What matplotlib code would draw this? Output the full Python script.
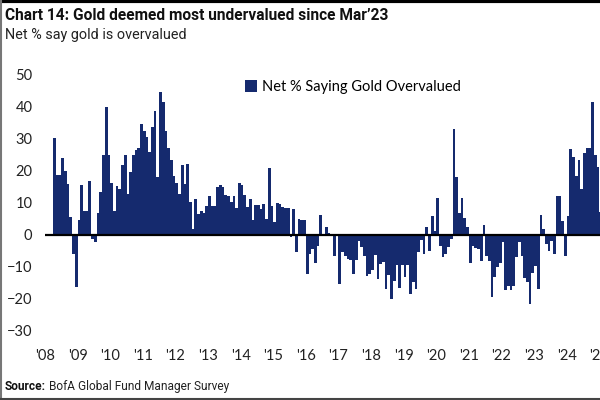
import matplotlib

matplotlib.use("Agg")
import matplotlib.pyplot as plt
from matplotlib.lines import Line2D
import numpy as np

# BofA FMS: net % of investors saying gold is overvalued, monthly from Apr 2008
y2008 = [30, 18.6, 18.6, 23.9, 19.7, 15.8, 5.4, -6, -16.3]
y2009 = [4.4, 15.5, 7.5, 7.2, 16.6, -1.4, -2.2, 6.8, 13.4, 24.7, 39.8, 24.7]
y2010 = [16.1, 7.5, 15, 14.3, 21.8, 24.9, 12.7, 19.5, 24.7, 26.3, 27, 34.5]
y2011 = [32.2, 30.4, 25.7, 33.5, 38.5, 17.9, 44.5, 41.4, 32.2, 27, 23.1, 18.2]
y2012 = [16.1, 12.7, 21.8, 15.8, 22.1, 10.1, 1.8, 11.1, 6.5, 7.2, 6.8, 9]
y2013 = [12, 9, 8.9, 14.8, 15.6, 14.8, 12.4, 12, 10.3, 12, 8.2, 16.1]
y2014 = [15.5, 12.4, 8.5, 11.1, 4.4, 9.3, 9.3, 8, 9.6, 4.9, 20.7, 9]
y2015 = [3.9, 9.9, 9.4, 8.5, 8.2, 8.2, -0.8, 8, -5.5, 4.9, 4.6, 4.4]
y2016 = [-12.3, -6, -4.5, -8.9, -3.6, 6.1, -0.3, 2.3, 0.5, 0.3, -6.5, -0.5]
y2017 = [-15.5, -5.4, -6.5, -7.5, -8, -12.2, -8, -2, -3.9, -6.5, -13, -12.2]
y2018 = [-11.1, -6.3, -13.8, -9, -8.5, -16.9, -12.7, -20, -14.5, -9.3, -16.6, -9.3]
y2019 = [-13.2, -9.6, -18.4, -14.8, -16.9, -5.4, -1.8, -5.9, 2.4, -5.1, 5.9, 1]
y2020 = [11.4, -3.6, -7, -6, -4, -1.5, 32.8, 17.9, 6.8, 11.4, 5.1, 2.3]
y2021 = [-8.9, -3.4, -4.3, -4.5, -8.1, 3, -6.6, -8.1, -19.3, -13.3, -10.2, -8.9]
y2022 = [-2.4, -17.2, -16, -17.2, -16.1, -7.1, -2.4, -6.6, -13.6, -14.7, -21.7, -11.8]
y2023 = [-9.7, -17, 6.1, 1.8, -2.9, -5, -1.9, -6, 12, 12, 4.1, -6.6]
y2024 = [5.9, 26.8, 24.2, 18.4, 23.1, 14.1, 25.5, 27, 27, 41.4, 24.7, 21]
y2025 = [7]

year_labels = ["'08", "'09", "'10", "'11", "'12", "'13", "'14", "'15", "'16",
               "'17", "'18", "'19", "'20", "'21", "'22", "'23", "'24", "'25"]

FIRST_MONTH = 3  # series starts in April 2008
BAR_COLOR = "#152a6e"

plt.rcParams["font.family"] = ["Lato", "DejaVu Sans"]
HEAD_FONT = ["Roboto", "DejaVu Sans"]

values = np.array(y2008 + y2009 + y2010 + y2011 + y2012 + y2013 + y2014 + y2015
                  + y2016 + y2017 + y2018 + y2019 + y2020 + y2021 + y2022
                  + y2023 + y2024 + y2025)
months = np.arange(len(values)) + FIRST_MONTH

fig = plt.figure(figsize=(6, 4), dpi=100)
# axes run a little past the right edge: the source image is cropped there
ax = fig.add_axes([0.075, 0.1725, 0.933, 0.6425])

ax.bar(months + 0.5, values, width=1.0, color=BAR_COLOR, linewidth=0,
       antialiased=False, label="Net % Saying Gold Overvalued")
ax.axhline(0, color="black", lw=1.6)

ax.set_xlim(0, 206)
ax.set_ylim(-30, 50)
ax.set_yticks(range(-30, 51, 10))
ax.set_xticks(np.arange(len(year_labels)) * 12)
ax.set_xticklabels(year_labels)
for spine in ax.spines.values():
    spine.set_visible(False)
ax.tick_params(axis="both", length=0, labelsize=10.5, colors="#222222")
ax.tick_params(axis="x", pad=13)
ax.tick_params(axis="y", pad=9)

ax.legend(loc="center left", bbox_to_anchor=(0.333, 0.95), frameon=False,
          handlelength=0.85, handleheight=0.85, handletextpad=0.35,
          prop={"size": 10.5})

fig.text(0.008, 0.962, "Chart 14: Gold deemed most undervalued since Mar\u201923",
         family=HEAD_FONT, weight="bold", fontsize=11.2, va="center",
         color="#111111")
fig.text(0.008, 0.912, "Net % say gold is overvalued",
         family=HEAD_FONT, fontsize=10.4, va="center", color="#222222")
src = fig.text(0.008, 0.033, "Source:", family=HEAD_FONT, weight="bold",
               fontsize=8.6, va="center", color="#111111")
ax.annotate("BofA Global Fund Manager Survey", xy=(1, 0.5), xycoords=src,
            xytext=(2.5, 0), textcoords="offset points", va="center",
            family=HEAD_FONT, fontsize=8.6, color="#222222",
            annotation_clip=False)

# frame edges of the original screenshot
fig.add_artist(Line2D([0, 1], [0.997, 0.997], transform=fig.transFigure,
                      color="black", lw=3))
fig.add_artist(Line2D([0.002, 0.002], [0, 1], transform=fig.transFigure,
                      color="#777777", lw=1.5))
fig.add_artist(Line2D([0, 1], [0.003, 0.003], transform=fig.transFigure,
                      color="#444444", lw=1.5))

fig.savefig("out.png", dpi=100)
